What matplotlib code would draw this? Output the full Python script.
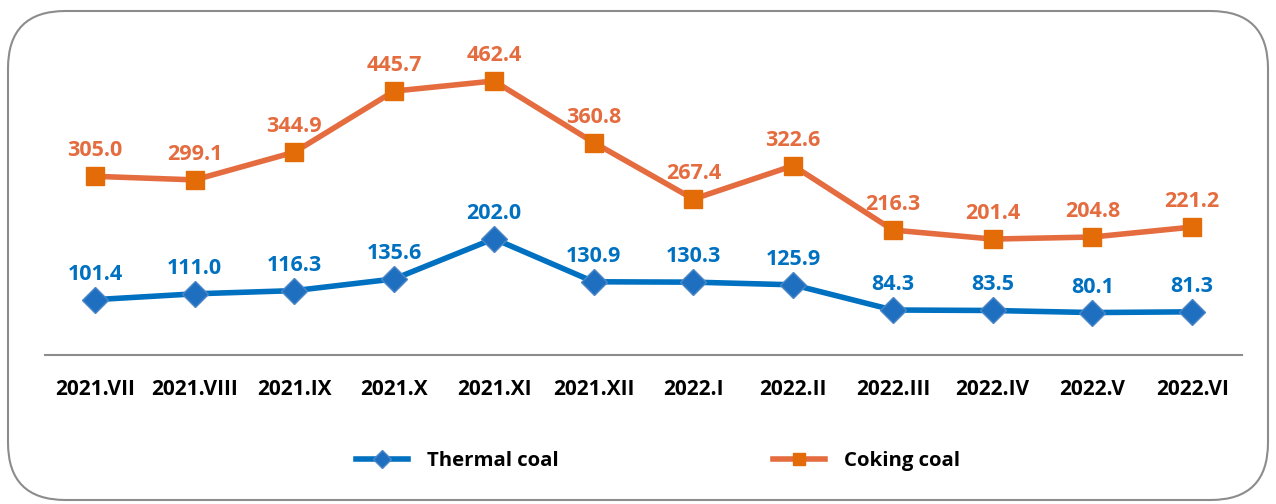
import numpy as np
import matplotlib.pyplot as plt
from matplotlib.patches import FancyBboxPatch

months = ['2021.VII', '2021.VIII', '2021.IX', '2021.X', '2021.XI', '2021.XII',
          '2022.I', '2022.II', '2022.III', '2022.IV', '2022.V', '2022.VI']
thermal = [101.4, 111.0, 116.3, 135.6, 202.0, 130.9, 130.3, 125.9, 84.3, 83.5, 80.1, 81.3]
coking = [305.0, 299.1, 344.9, 445.7, 462.4, 360.8, 267.4, 322.6, 216.3, 201.4, 204.8, 221.2]

plt.rcParams['font.family'] = ['Open Sans', 'DejaVu Sans']

blue = '#0070C0'
orange_line = '#E46C3F'
orange_mk = '#E36C09'

fig = plt.figure(figsize=(12.76, 5.04), dpi=100)
ax = fig.add_axes([0.0353, 0.2956, 0.9381, 0.625])

x = np.arange(len(months))
ax.plot(x, thermal, color=blue, lw=4, marker='D', ms=13, mfc='#1F6FC0',
        mec='#4A86C8', mew=1, label='Thermal coal', zorder=3)
ax.plot(x, coking, color=orange_line, lw=4, marker='s', ms=13, mfc=orange_mk,
        mec=orange_mk, label='Coking coal', zorder=3)

for i in x:
    ax.annotate(f'{thermal[i]:.1f}', (i, thermal[i]), xytext=(0, 20), textcoords='offset pixels',
                ha='center', va='baseline', fontsize=15.5, fontweight='bold', color=blue)
    ax.annotate(f'{coking[i]:.1f}', (i, coking[i]), xytext=(0, 20), textcoords='offset pixels',
                ha='center', va='baseline', fontsize=15.5, fontweight='bold', color=orange_line)

ax.set_xlim(-0.5, 11.5)
ax.set_ylim(10, 530)
ax.set_xticks(x)
ax.set_xticklabels(months, fontsize=15, fontweight='bold')
ax.tick_params(axis='x', length=0, pad=17)
ax.set_yticks([])
for s in ['top', 'right', 'left']:
    ax.spines[s].set_visible(False)
ax.spines['bottom'].set_color('#8C8C8C')
ax.spines['bottom'].set_linewidth(1.5)

fig.legend(loc='center', bbox_to_anchor=(0.5157, 0.085), ncol=2, frameon=False,
           prop={'size': 14.7, 'weight': 'bold'}, handlelength=2.55, columnspacing=10.5,
           handletextpad=0.93, markerscale=0.7)

# rounded frame around the whole chart
border = FancyBboxPatch((8 / 1276, 4 / 504), 1260 / 1276, 489 / 504,
                        boxstyle='round,pad=0,rounding_size=0.045',
                        transform=fig.transFigure, fill=False, ec='#8C8C8C', lw=1.5,
                        mutation_aspect=1276 / 504)
fig.patches.append(border)

fig.savefig('out.png', dpi=100)
